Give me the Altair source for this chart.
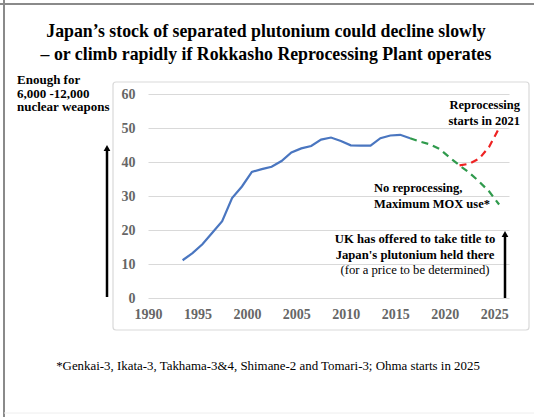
import altair as alt
import pandas as pd

# ---------------- data ----------------
hist_years = list(range(1993, 2017))
hist_values = [11.1, 13.2, 15.8, 19.2, 22.6, 29.4, 32.8, 37.1, 37.9, 38.6, 40.3, 42.8,
               44.0, 44.7, 46.6, 47.2, 46.2, 44.9, 44.8, 44.8, 47.0, 47.8, 48.0, 47.0]
mox_years = list(range(2016, 2026))
mox_values = [47.0, 46.0, 45.2, 43.8, 41.3, 39.0, 36.8, 34.2, 31.3, 27.5]
rep_years = [2021, 2022, 2023, 2024, 2025]
rep_values = [39.0, 39.5, 41.0, 44.5, 50.0]

x_ticks = [1990, 1995, 2000, 2005, 2010, 2015, 2020, 2025]
y_ticks = [0, 10, 20, 30, 40, 50, 60]

title_lines = ["Japan\u2019s stock of separated plutonium could decline slowly",
               "\u2013 or climb rapidly if Rokkasho Reprocessing Plant operates"]
left_note = ["Enough for", " 6,000 -12,000", "nuclear weapons"]
rep_note = ["Reprocessing", "starts in 2021"]
mox_note = ["No reprocessing,", "Maximum MOX use*"]
uk_note = ["UK has offered to take title to", "Japan's plutonium held there"]
uk_note2 = "(for a price to be determined)"
footnote = "*Genkai-3, Ikata-3, Takhama-3&4, Shimane-2 and Tomari-3; Ohma starts in 2025"

FONT = "'Liberation Serif', 'Times New Roman', serif"
W, H = 361, 204
OX, OY = 148, 94

hist = pd.DataFrame({"year": hist_years, "value": hist_values})
mox = pd.DataFrame({"year": mox_years, "value": mox_values})
rep = pd.DataFrame({"year": rep_years, "value": rep_values})

xscale = alt.Scale(domain=[1990, 2026.5], nice=False, zero=False)
yscale = alt.Scale(domain=[0, 60], nice=False)


def series(df, color, dash=None):
    kw = dict(strokeWidth=2.2, color=color)
    if dash:
        kw["strokeDash"] = dash
    return alt.Chart(df).transform_calculate(x="datum.year + 0.5").mark_line(**kw).encode(
        x=alt.X("x:Q", scale=xscale,
                axis=alt.Axis(values=x_ticks, format="d", grid=False, title=None,
                              labelPadding=9, labelFlush=False)),
        y=alt.Y("value:Q", scale=yscale,
                axis=alt.Axis(values=y_ticks, grid=True, title=None, labelPadding=13,
                              labelFlush=False)),
    )


one = pd.DataFrame({"a": [0]})


def txt(t, x, y, size=12, weight="bold", align="left", color="black", lh=None):
    return alt.Chart(one).mark_text(
        font=FONT, fontSize=size, fontWeight=weight, align=align,
        baseline="alphabetic", color=color, lineHeight=lh if lh else size + 3.5
    ).encode(x=alt.value(x - OX), y=alt.value(y - OY), text=alt.value(t))


def rule(x1, y1, x2, y2, color="black", width=2.5):
    return alt.Chart(one).mark_rule(color=color, strokeWidth=width).encode(
        x=alt.value(x1 - OX), x2=alt.value(x2 - OX),
        y=alt.value(y1 - OY), y2=alt.value(y2 - OY))


def head(x, y):
    return alt.Chart(one).mark_point(shape="triangle-up", filled=True, size=45,
                                     color="black", opacity=1).encode(
        x=alt.value(x - OX), y=alt.value(y - OY))


box = alt.Chart(one).mark_rect(fillOpacity=0, stroke="#d9d9d9", strokeWidth=1.2,
                               cornerRadius=3).encode(
    x=alt.value(113 - OX), x2=alt.value(529 - OX),
    y=alt.value(82 - OY), y2=alt.value(330 - OY))

title = alt.Chart(one).mark_text(
    font=FONT, fontSize=17.8, fontWeight="bold", align="center", baseline="alphabetic",
    color="black", lineHeight=23).encode(
    x=alt.value(266 - OX), y=alt.value(37 - OY), text=alt.value(title_lines))

layers = [
    box,
    series(hist, "#4a76c0"),
    series(mox, "#2f9a4c", [7, 5]),
    series(rep, "#ee2222", [7, 5]),
    title,
    txt(left_note, 17, 84, size=13, lh=13.5),
    rule(107, 297, 107, 150),
    head(107, 148),
    rule(505, 298, 505, 236),
    head(505, 234),
    txt(rep_note, 520, 109, size=12.5, align="right"),
    txt(mox_note, 374, 192, size=12.5),
    txt(uk_note, 415, 243, size=12.7, align="center"),
    txt(uk_note2, 415, 274, size=12.7, weight="normal", align="center"),
    txt(footnote, 268, 370, size=12.9, weight="normal", align="center"),
    rule(0, 4, 534, 4, color="#8a8a8a", width=2),
    rule(4, 0, 4, 417, color="#8a8a8a", width=2),
    rule(4, 413, 534, 413, color="#eeeeee", width=1),
]

chart = alt.layer(*layers).properties(
    width=W, height=H, autosize="none",
    padding={"left": OX, "top": OY, "right": 534 - OX - W, "bottom": 417 - OY - H},
    background="white",
).configure_view(stroke=None).configure_axis(
    labelFont=FONT, labelFontSize=14, labelFontWeight="bold", labelColor="#666666",
    domain=False, ticks=False, gridColor="#d9d9d9", gridWidth=1,
)

chart.save("out.html", embed_options={"renderer": "svg", "actions": False})
